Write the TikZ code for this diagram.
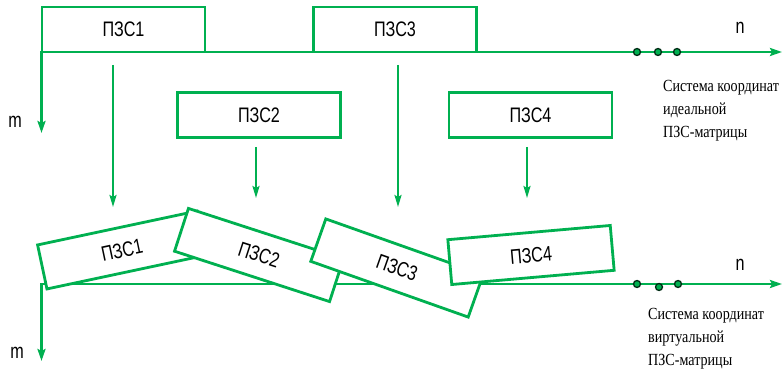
\documentclass[tikz,border=0pt]{standalone}
\usepackage{fontspec}
\usetikzlibrary{arrows.meta}
\newfontfamily\labfont[FakeStretch=0.77]{Liberation Sans}
\newfontfamily\capfont[FakeStretch=0.83]{Liberation Serif}
\definecolor{gr}{RGB}{0,176,80}
\begin{document}
\begin{tikzpicture}[x=1pt,y=-1pt,
  box/.style={draw=gr, line width=2.8pt, fill=white, minimum width=163pt, minimum height=45pt, inner sep=0pt, font=\labfont\fontsize{21}{24}\selectfont},
  axis/.style={draw=gr, line width=2.8pt, {Stealth[length=12pt,width=8pt,inset=2pt]}-{Stealth[length=12pt,width=8pt,inset=2pt]}},
  conn/.style={draw=gr, line width=2pt, -{Stealth[length=12pt,width=7pt,inset=2pt]}},
  dot/.style={circle, draw=black!75!gr, fill=gr, line width=1.3pt, minimum size=7pt, inner sep=0pt},
  axlab/.style={font=\labfont\fontsize{21}{24}\selectfont, inner sep=0pt},
  note/.style={font=\capfont\fontsize{17}{23}\selectfont, align=left, inner sep=0pt, anchor=north west}]
\useasboundingbox (0,0) rectangle (783,371);

% ---------- ideal matrix coordinate system ----------
\coordinate (o1) at (41.5,52);
\coordinate (n1end) at (782,52);
\coordinate (m1end) at (41.5,133);
\draw[axis] (m1end) -- (o1) -- (n1end);
\node[dot] (d11) at (637,52) {};
\node[dot] (d12) at (658,52) {};
\node[dot] (d13) at (677,52) {};
\node[axlab] (m1) at (15,122) {m};
\node[axlab] (n1) at (740,28) {n};
\node[note] (c1) at (663,80.5) {Система координат\\идеальной\\ПЗС-матрицы};

\node[box] (t1) at (123.5,29.5) {ПЗС1};
\node[box] (t3) at (395,29.5) {ПЗС3};
\node[box] (t2) at (259,115) {ПЗС2};
\node[box] (t4) at (530.5,115) {ПЗС4};

% ---------- virtual matrix coordinate system ----------
\coordinate (o2) at (41.5,284);
\coordinate (n2end) at (782,284);
\coordinate (m2end) at (41.5,361);
\draw[axis] (m2end) -- (o2) -- (n2end);
\node[dot] (d21) at (637,284) {};
\node[dot] (d22) at (659,287) {};
\node[dot] (d23) at (678,284) {};
\node[axlab] (m2) at (17,353) {m};
\node[axlab] (n2) at (740,265) {n};
\node[note] (c2) at (648,308.5) {Система координат\\виртуальной\\ПЗС-матрицы};

\node[box, rotate=12] (b1) at (122,250) {ПЗС1};
\node[box, rotate=-18] (b2) at (259,255) {ПЗС2};
\node[box, rotate=-19.5, minimum width=167pt] (b3) at (397,268) {ПЗС3};
\node[box, rotate=5] (b4) at (531,255) {ПЗС4};

% ---------- connectors ----------
\coordinate (a1s) at (113,65);  \coordinate (a1e) at (113,207);
\coordinate (a2s) at (256,147); \coordinate (a2e) at (256,198);
\coordinate (a3s) at (398,65);  \coordinate (a3e) at (398,207);
\coordinate (a4s) at (527,147); \coordinate (a4e) at (527,198);
\draw[conn] (a1s) -- (a1e);
\draw[conn] (a2s) -- (a2e);
\draw[conn] (a3s) -- (a3e);
\draw[conn] (a4s) -- (a4e);
\end{tikzpicture}
\end{document}
